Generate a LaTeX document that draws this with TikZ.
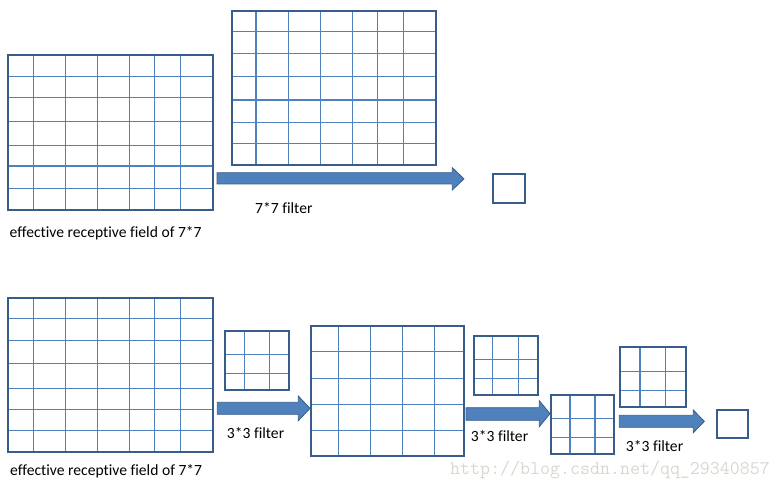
\documentclass[tikz,border=0pt]{standalone}
\usepackage{fontspec}
\setmainfont[Ligatures=NoCommon]{Carlito}
\usetikzlibrary{calc}
\definecolor{gridline}{HTML}{4F81BD}
\definecolor{gridborder}{HTML}{385D8A}
\definecolor{arrowfill}{HTML}{4F81BD}
\definecolor{wmgray}{HTML}{D8D8D0}
\tikzset{
  innerline/.style={draw=gridline, line width=1.3pt},
  outerbox/.style={draw=gridborder, line width=2pt, fill=none, inner sep=0pt, anchor=north west},
  blockarrow/.style={fill=arrowfill, draw=gridborder, line width=0.8pt, line join=miter},
  caption/.style={anchor=west, inner sep=0pt, font=\fontsize{15.6}{17}\selectfont, text=black},
  watermark/.style={anchor=west, inner sep=0pt, text=wmgray, font=\ttfamily\fontsize{19.4}{20}\selectfont}
}
% name, x1, y1, x2, y2, vertical lines, horizontal lines
\newcommand{\gridbox}[7]{%
  \foreach \gx in {#6} {\draw[innerline] (\gx,#3) -- (\gx,#5);}
  \foreach \gy in {#7} {\draw[innerline] (#2,\gy) -- (#4,\gy);}
  \node[outerbox, minimum width={(#4-#2)*1pt}, minimum height={(#5-#3)*1pt}] (#1) at (#2,#3) {};
}
\newcommand{\plainbox}[5]{%
  \node[outerbox, minimum width={(#4-#2)*1pt}, minimum height={(#5-#3)*1pt}] (#1) at (#2,#3) {};
}
% x-start, x-headbase, x-tip, shaft-top, shaft-bottom, head-top, head-bottom
\newcommand{\barrow}[7]{%
  \draw[blockarrow] (#1,#4) -- (#2,#4) -- (#2,#6) -- (#3,{(#6+#7)/2}) -- (#2,#7) -- (#2,#5) -- (#1,#5) -- cycle;
}
\begin{document}
\begin{tikzpicture}[x=1pt, y=-1pt]
\useasboundingbox (0,0) rectangle (782,489);
% ---------- top row ----------
\gridbox{tgA}{7.3}{54.3}{212.3}{209.3}{33.3,65.3,97.3,129.3,154.3,180.3}{76.3,97.3,121.7,145.7,166,188.3}
\gridbox{tgB}{230.7}{9.7}{435}{164}{256,288.3,320.3,352.3,377.3,403.3}{31.3,53.3,76.7,100,122.3,143.3}
\barrow{217}{452.3}{464}{172.7}{184}{167.7}{190}
\plainbox{tout}{491.7}{172.7}{524.3}{202}
\node[caption] (tcap) at (9.5,233) {effective receptive field of 7*7};
\node[caption] (tfil) at (255,208) {7*7 filter};
% ---------- bottom row ----------
\gridbox{bgA}{7.3}{296.7}{212.3}{451.3}{33.3,65.3,97.3,129.3,154.3,180.3}{318.7,340.3,363.3,388.7,409.3,430.7}
\gridbox{f1}{223.7}{330}{288}{389}{244.7,269.3}{354.3,373.3}
\barrow{217.3}{298.3}{310}{402.3}{414.3}{396}{420.7}
\gridbox{bgB}{309.7}{324.7}{463.3}{455}{338.3,370.3,402.3,434.7}{351.3,378.3,404.7,430.3}
\gridbox{f2}{472.7}{335.3}{537}{394}{492.3,518.7}{359.3,378.3}
\barrow{466}{539.3}{550}{407.7}{420.3}{400.7}{426.7}
\gridbox{bgC}{549.7}{394.3}{613}{453.3}{570,595}{418.3,437.7}
\gridbox{f3}{619.3}{346.3}{684.7}{406}{640,665.3}{371.3,390.7}
\barrow{619.3}{693.3}{704.3}{415.3}{427.3}{410}{432.7}
\plainbox{bout}{715.7}{408.7}{747.3}{437}
\node[caption] (bf1) at (226.7,432.7) {3*3 filter};
\node[caption] (bf2) at (470.7,436) {3*3 filter};
\node[caption] (bf3) at (625.7,446) {3*3 filter};
\node[caption] (bcap) at (10,471) {effective receptive field of 7*7};
\node[watermark] (wm) at (450,470) {http://blog.csdn.net/qq\_29340857};
\end{tikzpicture}
\end{document}
